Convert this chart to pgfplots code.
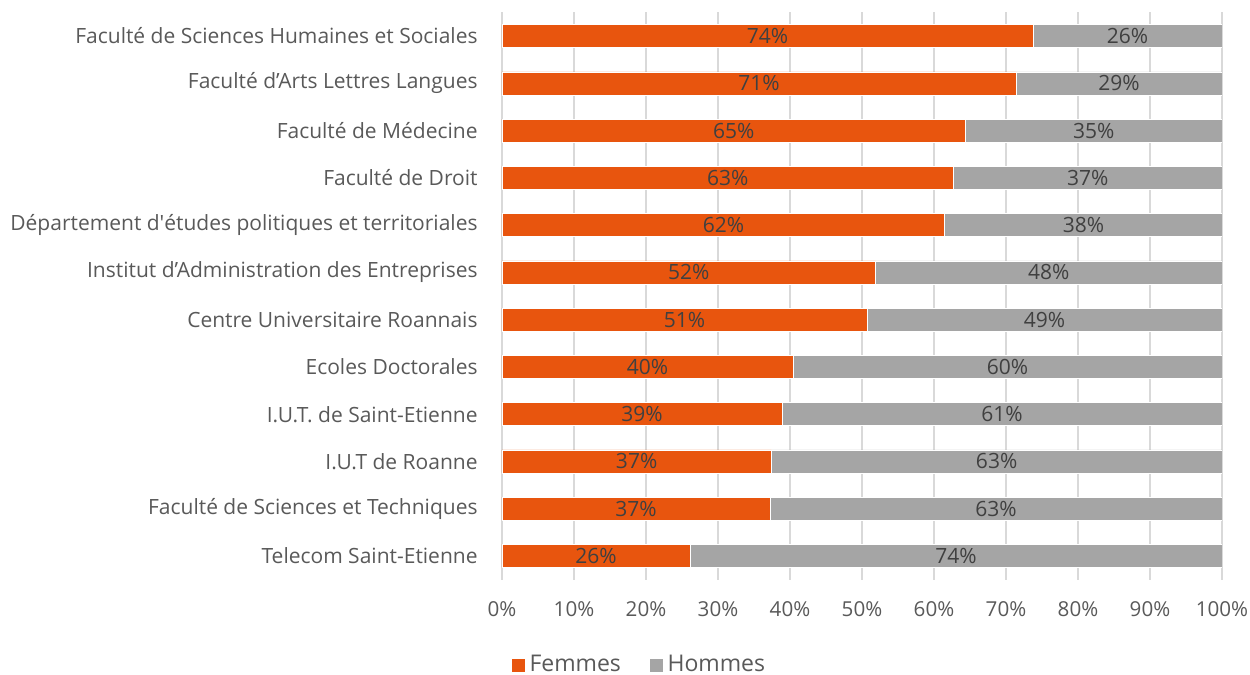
\documentclass[border=0pt]{standalone}
\usepackage{pgfplots}
\pgfplotsset{compat=1.18}
\usepackage{pgfplotstable}
\usepackage{fontspec}
\setmainfont{Open Sans}
\definecolor{femmes}{HTML}{E8550E}
\definecolor{hommes}{HTML}{A5A5A5}
\definecolor{gridc}{HTML}{D9D9D9}
\definecolor{txt}{HTML}{595959}
\definecolor{lbl}{HTML}{404040}

\pgfplotstableread[col sep=comma]{
y,f,h,fc,hc,fl,hl
0,73.75,26.25,36.875,86.875,74\%,26\%
1,71.4,28.6,35.7,85.7,71\%,29\%
2,64.4,35.6,32.2,82.2,65\%,35\%
3,62.7,37.3,31.35,81.35,63\%,37\%
4,61.5,38.5,30.75,80.75,62\%,38\%
5,51.9,48.1,25.95,75.95,52\%,48\%
6,50.7,49.3,25.35,75.35,51\%,49\%
7,40.4,59.6,20.2,70.2,40\%,60\%
8,38.9,61.1,19.45,69.45,39\%,61\%
9,37.4,62.6,18.7,68.7,37\%,63\%
10,37.2,62.8,18.6,68.6,37\%,63\%
11,26.1,73.9,13.05,63.05,26\%,74\%
}\data

\begin{document}
\begin{tikzpicture}
\fontsize{10.5pt}{12pt}\selectfont
\path[use as bounding box] (0,0) rectangle (625pt,337.5pt);
\pgfplotsset{
  myaxis/.style={
    at={(251pt,47.7pt)}, anchor=south west,
    scale only axis, width=360pt, height=283.6pt,
    xmin=0, xmax=100, ymin=-0.5, ymax=11.5, y dir=reverse,
  }
}
\begin{axis}[myaxis,
  stack plots=x,
  axis x line*=bottom, axis y line*=left,
  x axis line style={draw=none},
  y axis line style={draw=gridc, line width=1pt},
  xmajorgrids, major grid style={draw=gridc, line width=0.75pt},
  xtick={0,10,...,100},
  xticklabel={\pgfmathprintnumber{\tick}\%},
  ytick={0,...,11},
  yticklabels={
    Faculté de Sciences Humaines et Sociales,
    Faculté d’Arts Lettres Langues,
    Faculté de Médecine,
    Faculté de Droit,
    Département d\textquotesingle études politiques et territoriales,
    Institut d’Administration des Entreprises,
    Centre Universitaire Roannais,
    Ecoles Doctorales,
    I.U.T. de Saint-Etienne,
    I.U.T de Roanne,
    Faculté de Sciences et Techniques,
    Telecom Saint-Etienne},
  major tick length=0pt,
  yticklabel style={font=\fontsize{10.5pt}{12pt}\selectfont, text=txt, inner sep=0pt, xshift=-12pt},
  xticklabel style={font=\fontsize{10.3pt}{12pt}\selectfont, text=txt, inner sep=0pt, yshift=-11pt},
  /pgf/number format/assume math mode=true,
  legend style={at={(0.1917,-0.1506)}, anchor=center, draw=none, fill=none,
    legend columns=2, font=\fontsize{11.5pt}{13pt}\selectfont, text=txt,
    /tikz/every even column/.append style={column sep=12pt}},
  legend cell align=left,
  legend image code/.code={\fill[#1] (0pt,-3.5pt) rectangle (7pt,3.5pt);},
]
\addplot[xbar, bar width=11.5pt, fill=femmes, draw=white, line width=0.3pt] table[x=f, y=y] {\data};
\addlegendentry{Femmes}
\addplot[xbar, bar width=11.5pt, fill=hommes, draw=white, line width=0.3pt] table[x=h, y=y] {\data};
\addlegendentry{Hommes}
\end{axis}
\begin{axis}[myaxis, hide axis,
  nodes near coords, point meta=explicit symbolic,
  every node near coord/.append style={anchor=center, text=lbl,
    font=\fontsize{10.5pt}{12pt}\selectfont, inner sep=0pt},
]
\addplot[only marks, mark=none] table[x=fc, y=y, meta=fl] {\data};
\addplot[only marks, mark=none] table[x=hc, y=y, meta=hl] {\data};
\end{axis}
\end{tikzpicture}
\end{document}
